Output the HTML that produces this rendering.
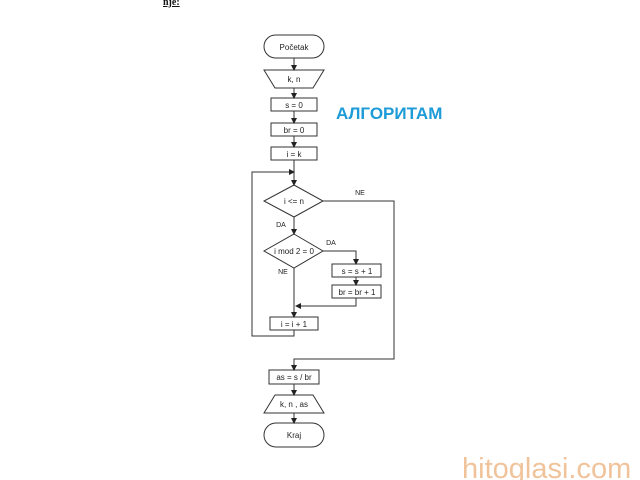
<!DOCTYPE html>
<html><head><meta charset="utf-8"><style>
html,body{margin:0;padding:0;background:#fff;width:640px;height:480px;overflow:hidden}
svg{display:block}
</style></head><body>
<svg width="640" height="480" viewBox="0 0 640 480" xmlns="http://www.w3.org/2000/svg">
<defs><marker id="a" markerWidth="6" markerHeight="6" refX="5" refY="3" orient="auto" markerUnits="userSpaceOnUse"><path d="M0,0 L6,3 L0,6 z" fill="#222"/></marker></defs>
<text x="163" y="5" font-family="Liberation Serif,serif" font-size="10" font-weight="bold" text-decoration="underline" fill="#111">nje:</text>
<g fill="none" stroke="#333" stroke-width="1">
<rect x="264" y="35" width="60" height="23" rx="11.5" fill="#fff"/>
<path d="M264,70 L324,70 L313,88 L275,88 Z" fill="#fff"/>
<rect x="271" y="98" width="46" height="13" fill="#fff"/>
<rect x="271" y="123" width="46" height="13" fill="#fff"/>
<rect x="271" y="147" width="46" height="13" fill="#fff"/>
<path d="M294,185 L323,201 L294,217 L264,201 Z" fill="#fff"/>
<path d="M294,234 L323,251 L294,268 L264,251 Z" fill="#fff"/>
<rect x="332" y="264" width="49" height="13" fill="#fff"/>
<rect x="332" y="285" width="49" height="13" fill="#fff"/>
<rect x="270" y="317" width="48" height="13" fill="#fff"/>
<rect x="269" y="370" width="50" height="14" fill="#fff"/>
<path d="M275,395 L313,395 L324,413 L264,413 Z" fill="#fff"/>
<rect x="264" y="423" width="60" height="24" rx="12" fill="#fff"/>
</g>
<g fill="none" stroke="#333" stroke-width="1">
<path d="M294,58 V70" marker-end="url(#a)"/>
<path d="M294,88 V98" marker-end="url(#a)"/>
<path d="M294,111 V123" marker-end="url(#a)"/>
<path d="M294,136 V147" marker-end="url(#a)"/>
<path d="M294,160 V185" marker-end="url(#a)"/>
<path d="M294,217 V234" marker-end="url(#a)"/>
<path d="M323,251 H356 V264" marker-end="url(#a)"/>
<path d="M356,277 V285" marker-end="url(#a)"/>
<path d="M356,298 V306 H296" marker-end="url(#a)"/>
<path d="M294,268 V317" marker-end="url(#a)"/>
<path d="M294,330 V336 H252 V172 H294" marker-end="url(#a)"/>
<path d="M323,201 H394 V359 H294 V370" marker-end="url(#a)"/>
<path d="M294,384 V395" marker-end="url(#a)"/>
<path d="M294,413 V423" marker-end="url(#a)"/>
</g>
<g font-family="Liberation Sans,sans-serif" font-size="8" fill="#222" text-anchor="middle">
<text x="294" y="50">Početak</text>
<text x="294" y="82">k, n</text>
<text x="294" y="108">s = 0</text>
<text x="294" y="133">br = 0</text>
<text x="294" y="157">i = k</text>
<text x="294" y="204">i &lt;= n</text>
<text x="294" y="254">i mod 2 = 0</text>
<text x="357" y="274">s = s + 1</text>
<text x="357" y="295">br = br + 1</text>
<text x="294" y="327">i = i + 1</text>
<text x="294" y="380">as = s / br</text>
<text x="294" y="407">k, n , as</text>
<text x="294" y="438">Kraj</text>
<text x="360" y="195" font-size="7">NE</text>
<text x="281" y="227" font-size="7">DA</text>
<text x="331" y="245" font-size="7">DA</text>
<text x="283" y="274" font-size="7">NE</text>
</g>
<text x="336" y="119" font-family="Liberation Sans,sans-serif" font-size="17" font-weight="bold" fill="#1d9bd7">АЛГОРИТАМ</text>
<text x="462" y="478" font-family="Liberation Sans,sans-serif" font-size="29" fill="#f0c39a">hitoglasi.com</text>
</svg>
</body></html>
